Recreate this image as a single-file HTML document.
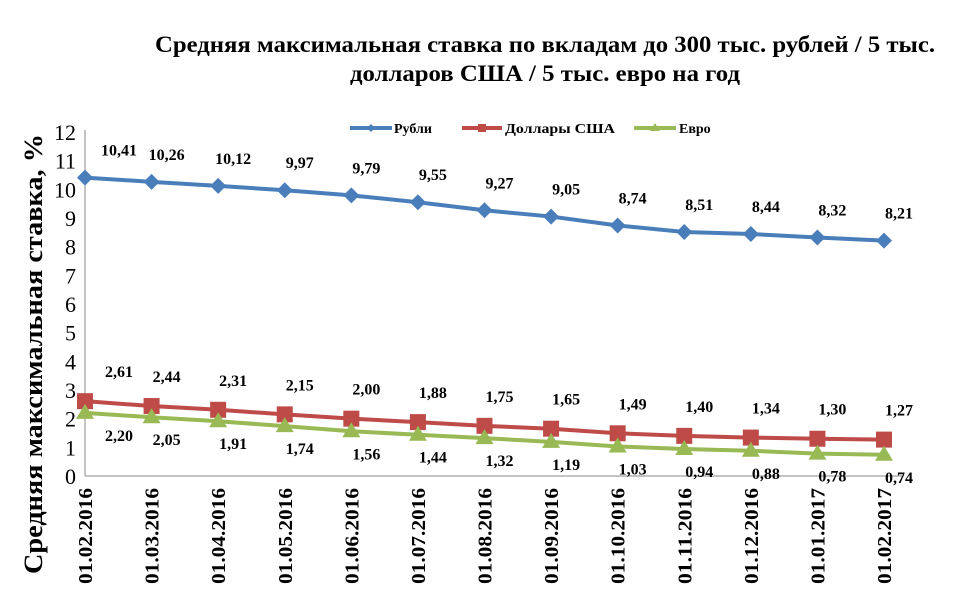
<!DOCTYPE html>
<html><head><meta charset="utf-8"><style>
body{margin:0;background:#fff;}
svg text{font-family:"Liberation Serif",serif;}
</style></head><body>
<svg width="961" height="599" xmlns="http://www.w3.org/2000/svg">
<text x="545" y="52" text-anchor="middle" font-size="23" font-weight="bold" textLength="780" lengthAdjust="spacingAndGlyphs">Средняя максимальная ставка по вкладам до 300 тыс. рублей / 5 тыс.</text>
<text x="545" y="81" text-anchor="middle" font-size="23" font-weight="bold" textLength="390" lengthAdjust="spacingAndGlyphs">долларов США  / 5 тыс. евро на год</text>
<g font-size="14" font-weight="bold">
<g><line x1="350" y1="128" x2="392" y2="128" stroke="#4a7ebb" stroke-width="4"/><path d="M371 124l4 4-4 4-4-4z" fill="#4a7ebb"/><text x="394" y="133">Рубли</text></g>
<g><line x1="462" y1="128" x2="502" y2="128" stroke="#be4b48" stroke-width="4"/><rect x="478" y="124" width="8" height="8" fill="#be4b48"/><text x="505" y="133" textLength="110" lengthAdjust="spacingAndGlyphs">Доллары США</text></g>
<g><line x1="634" y1="128" x2="676" y2="128" stroke="#98b954" stroke-width="4"/><path d="M655 123l5 8h-10z" fill="#98b954"/><text x="679" y="133">Евро</text></g>
</g>
<g id="axes"></g>
<g id="series"></g>
<text transform="translate(42,354) rotate(-90)" text-anchor="middle" font-size="26" font-weight="bold" textLength="440" lengthAdjust="spacingAndGlyphs">Средняя максимальная ставка, %</text>
<script>
const categories=["01.02.2016","01.03.2016","01.04.2016","01.05.2016","01.06.2016","01.07.2016","01.08.2016","01.09.2016","01.10.2016","01.11.2016","01.12.2016","01.01.2017","01.02.2017"];
const rub=[10.41,10.26,10.12,9.97,9.79,9.55,9.27,9.05,8.74,8.51,8.44,8.32,8.21];
const usd=[2.61,2.44,2.31,2.15,2.00,1.88,1.75,1.65,1.49,1.40,1.34,1.30,1.27];
const eur=[2.20,2.05,1.91,1.74,1.56,1.44,1.32,1.19,1.03,0.94,0.88,0.78,0.74];
const yTicks=[0,1,2,3,4,5,6,7,8,9,10,11,12];
const NS="http://www.w3.org/2000/svg";
const X0=85,X1=884,Y0=476,Y1=132,YMAX=12;
const xs=i=>X0+(X1-X0)*i/(categories.length-1);
const ys=v=>Y0-(Y0-Y1)*v/YMAX;
function mk(t,a,p){const e=document.createElementNS(NS,t);for(const k in a)e.setAttribute(k,a[k]);p.appendChild(e);return e;}
const ax=document.getElementById('axes'),se=document.getElementById('series');
const yl=mk('line',{x1:X0,y1:Y1-2,x2:X0,y2:Y0,stroke:'#888'},ax);


const xl=mk('line',{x1:X0,y1:Y0,x2:X1+20,y2:Y0,stroke:'#888'},ax);


yTicks.forEach(v=>{const t=mk('text',{x:76,y:ys(v)+8,'text-anchor':'end','font-size':'22'},ax);t.textContent=v;

});
categories.forEach((c,i)=>{const t=mk('text',{transform:`translate(${xs(i)+7},488) rotate(-90)`,'text-anchor':'end','font-size':'20','font-weight':'bold',textLength:'96',lengthAdjust:'spacingAndGlyphs'},ax);t.textContent=c;

});
function fmt(v){return v.toFixed(2).replace('.',',');}
function series(vals,color,name,marker,dy){
 const pl=mk('polyline',{points:vals.map((v,i)=>xs(i)+','+ys(v)).join(' '),fill:'none',stroke:color,'stroke-width':4},se);
 
 
 vals.forEach((v,i)=>{const x=xs(i),y=ys(v);let m;
  if(marker==='d')m=mk('path',{d:`M${x} ${y-8}l8 8-8 8-8-8z`,fill:color},se);
  else if(marker==='s')m=mk('rect',{x:x-8,y:y-8,width:16,height:16,fill:color},se);
  else m=mk('path',{d:`M${x} ${y-9}l9 15h-18z`,fill:color},se);
  
  
  const t=mk('text',{x:x+(i==0?34:15),y:y+dy,'text-anchor':'middle','font-size':'16','font-weight':'bold'},se);t.textContent=fmt(v);
  
  });
}
series(rub,'#4a7ebb','rub','d',-22);
series(usd,'#be4b48','usd','s',-24);
series(eur,'#98b954','eur','t',28);
</script>
</svg>
</body></html>
